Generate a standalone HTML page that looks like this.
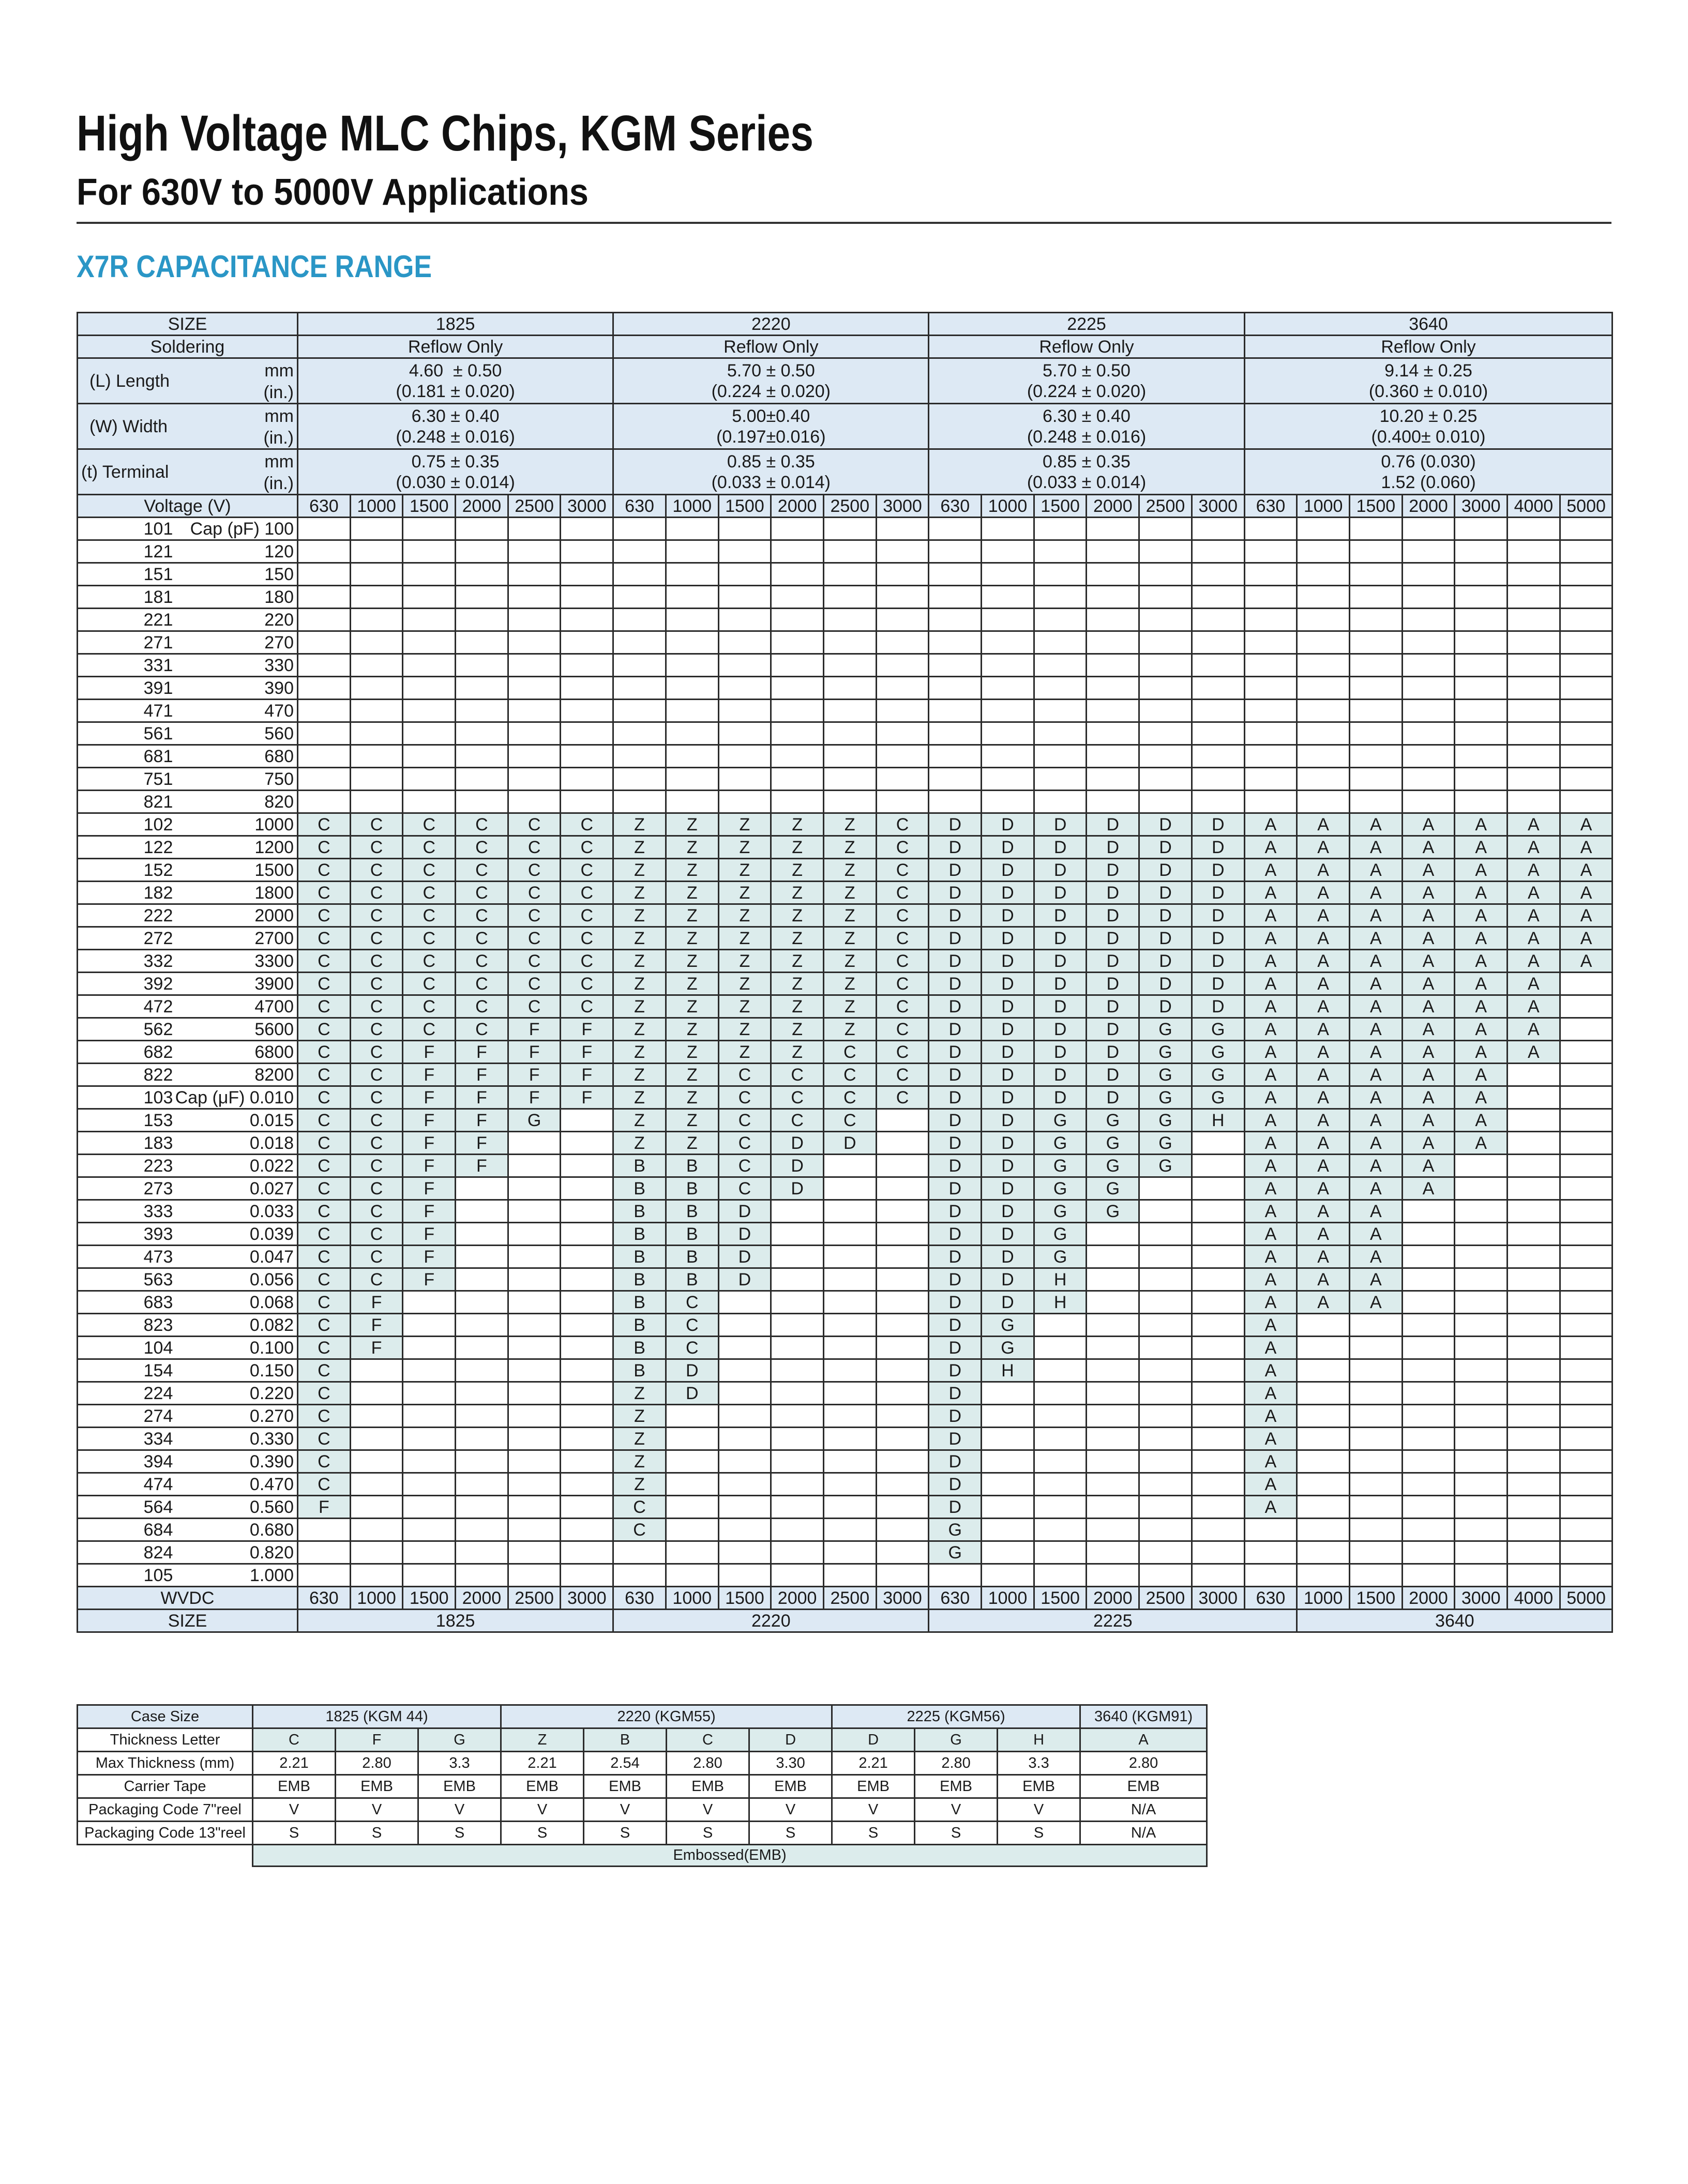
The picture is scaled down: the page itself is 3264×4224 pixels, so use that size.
<!DOCTYPE html>
<html><head><meta charset="utf-8"><style>
body{margin:0;width:3264px;height:4224px;background:#fff;position:relative;font-family:"Liberation Sans",sans-serif;color:#1a1a1a;overflow:hidden}
svg.t{position:absolute;left:0;top:0}
table{border-collapse:collapse;table-layout:fixed;position:absolute}
td{border:3px solid #2b2b2b;padding:0;text-align:center;white-space:nowrap;overflow:hidden}
#m{left:148px;top:603px;width:2968px;font-size:34px}
#m tr{height:44px}
#m tr.d{height:88px}
#m td{line-height:40px}
.h{background:#dde9f4}
.f{background:#dcecec}
td.l{position:relative;text-align:right;padding-right:6px}
td.l b{font-weight:normal;position:absolute;left:110px;width:90px;text-align:center;top:1px}
td.k{position:relative;text-align:left;padding-left:22px}
td.k span{position:absolute;right:6px;top:2px;text-align:right;line-height:42px}
#s{left:148px;top:3296px;width:2184px;font-size:29px}
#s tr{height:45px}
</style></head><body>
<svg class="t" width="3264" height="600">
<text x="148" y="291" font-family="Liberation Sans" font-weight="bold" font-size="97" textLength="1425" lengthAdjust="spacingAndGlyphs" fill="#111">High Voltage MLC Chips, KGM Series</text>
<text x="148" y="396" font-family="Liberation Sans" font-weight="bold" font-size="72" textLength="990" lengthAdjust="spacingAndGlyphs" fill="#111">For 630V to 5000V Applications</text>
<rect x="148" y="429" width="2968" height="4" fill="#333"/>
<text x="148" y="536" font-family="Liberation Sans" font-weight="bold" font-size="60" textLength="687" lengthAdjust="spacingAndGlyphs" fill="#2a96c6">X7R CAPACITANCE RANGE</text>
</svg>
<table id="m">
<colgroup><col style="width:426px"><col span="25" style="width:101.7px"></colgroup>
<tr class="h"><td>SIZE<td colspan="6">1825<td colspan="6">2220<td colspan="6">2225<td colspan="7">3640</tr>
<tr class="h"><td>Soldering<td colspan="6">Reflow Only<td colspan="6">Reflow Only<td colspan="6">Reflow Only<td colspan="7">Reflow Only</tr>
<tr class="h d"><td class="k">(L) Length<span>mm<br>(in.)</span><td colspan="6">4.60 &nbsp;± 0.50<br>(0.181 ± 0.020)<td colspan="6">5.70 ± 0.50<br>(0.224 ± 0.020)<td colspan="6">5.70 ± 0.50<br>(0.224 ± 0.020)<td colspan="7">9.14 ± 0.25<br>(0.360 ± 0.010)</tr>
<tr class="h d"><td class="k">(W) Width<span>mm<br>(in.)</span><td colspan="6">6.30 ± 0.40<br>(0.248 ± 0.016)<td colspan="6">5.00±0.40<br>(0.197±0.016)<td colspan="6">6.30 ± 0.40<br>(0.248 ± 0.016)<td colspan="7">10.20 ± 0.25<br>(0.400± 0.010)</tr>
<tr class="h d"><td class="k" style="padding-left:6px">(t) Terminal<span>mm<br>(in.)</span><td colspan="6">0.75 ± 0.35<br>(0.030 ± 0.014)<td colspan="6">0.85 ± 0.35<br>(0.033 ± 0.014)<td colspan="6">0.85 ± 0.35<br>(0.033 ± 0.014)<td colspan="7">0.76 (0.030)<br>1.52 (0.060)</tr>
<tr class="h"><td>Voltage (V)<td>630<td>1000<td>1500<td>2000<td>2500<td>3000<td>630<td>1000<td>1500<td>2000<td>2500<td>3000<td>630<td>1000<td>1500<td>2000<td>2500<td>3000<td>630<td>1000<td>1500<td>2000<td>3000<td>4000<td>5000</tr>
<tr><td class="l"><b>101</b>Cap (pF) 100<td><td><td><td><td><td><td><td><td><td><td><td><td><td><td><td><td><td><td><td><td><td><td><td><td><td></tr>
<tr><td class="l"><b>121</b>120<td><td><td><td><td><td><td><td><td><td><td><td><td><td><td><td><td><td><td><td><td><td><td><td><td><td></tr>
<tr><td class="l"><b>151</b>150<td><td><td><td><td><td><td><td><td><td><td><td><td><td><td><td><td><td><td><td><td><td><td><td><td><td></tr>
<tr><td class="l"><b>181</b>180<td><td><td><td><td><td><td><td><td><td><td><td><td><td><td><td><td><td><td><td><td><td><td><td><td><td></tr>
<tr><td class="l"><b>221</b>220<td><td><td><td><td><td><td><td><td><td><td><td><td><td><td><td><td><td><td><td><td><td><td><td><td><td></tr>
<tr><td class="l"><b>271</b>270<td><td><td><td><td><td><td><td><td><td><td><td><td><td><td><td><td><td><td><td><td><td><td><td><td><td></tr>
<tr><td class="l"><b>331</b>330<td><td><td><td><td><td><td><td><td><td><td><td><td><td><td><td><td><td><td><td><td><td><td><td><td><td></tr>
<tr><td class="l"><b>391</b>390<td><td><td><td><td><td><td><td><td><td><td><td><td><td><td><td><td><td><td><td><td><td><td><td><td><td></tr>
<tr><td class="l"><b>471</b>470<td><td><td><td><td><td><td><td><td><td><td><td><td><td><td><td><td><td><td><td><td><td><td><td><td><td></tr>
<tr><td class="l"><b>561</b>560<td><td><td><td><td><td><td><td><td><td><td><td><td><td><td><td><td><td><td><td><td><td><td><td><td><td></tr>
<tr><td class="l"><b>681</b>680<td><td><td><td><td><td><td><td><td><td><td><td><td><td><td><td><td><td><td><td><td><td><td><td><td><td></tr>
<tr><td class="l"><b>751</b>750<td><td><td><td><td><td><td><td><td><td><td><td><td><td><td><td><td><td><td><td><td><td><td><td><td><td></tr>
<tr><td class="l"><b>821</b>820<td><td><td><td><td><td><td><td><td><td><td><td><td><td><td><td><td><td><td><td><td><td><td><td><td><td></tr>
<tr><td class="l"><b>102</b>1000<td class="f">C<td class="f">C<td class="f">C<td class="f">C<td class="f">C<td class="f">C<td class="f">Z<td class="f">Z<td class="f">Z<td class="f">Z<td class="f">Z<td class="f">C<td class="f">D<td class="f">D<td class="f">D<td class="f">D<td class="f">D<td class="f">D<td class="f">A<td class="f">A<td class="f">A<td class="f">A<td class="f">A<td class="f">A<td class="f">A</tr>
<tr><td class="l"><b>122</b>1200<td class="f">C<td class="f">C<td class="f">C<td class="f">C<td class="f">C<td class="f">C<td class="f">Z<td class="f">Z<td class="f">Z<td class="f">Z<td class="f">Z<td class="f">C<td class="f">D<td class="f">D<td class="f">D<td class="f">D<td class="f">D<td class="f">D<td class="f">A<td class="f">A<td class="f">A<td class="f">A<td class="f">A<td class="f">A<td class="f">A</tr>
<tr><td class="l"><b>152</b>1500<td class="f">C<td class="f">C<td class="f">C<td class="f">C<td class="f">C<td class="f">C<td class="f">Z<td class="f">Z<td class="f">Z<td class="f">Z<td class="f">Z<td class="f">C<td class="f">D<td class="f">D<td class="f">D<td class="f">D<td class="f">D<td class="f">D<td class="f">A<td class="f">A<td class="f">A<td class="f">A<td class="f">A<td class="f">A<td class="f">A</tr>
<tr><td class="l"><b>182</b>1800<td class="f">C<td class="f">C<td class="f">C<td class="f">C<td class="f">C<td class="f">C<td class="f">Z<td class="f">Z<td class="f">Z<td class="f">Z<td class="f">Z<td class="f">C<td class="f">D<td class="f">D<td class="f">D<td class="f">D<td class="f">D<td class="f">D<td class="f">A<td class="f">A<td class="f">A<td class="f">A<td class="f">A<td class="f">A<td class="f">A</tr>
<tr><td class="l"><b>222</b>2000<td class="f">C<td class="f">C<td class="f">C<td class="f">C<td class="f">C<td class="f">C<td class="f">Z<td class="f">Z<td class="f">Z<td class="f">Z<td class="f">Z<td class="f">C<td class="f">D<td class="f">D<td class="f">D<td class="f">D<td class="f">D<td class="f">D<td class="f">A<td class="f">A<td class="f">A<td class="f">A<td class="f">A<td class="f">A<td class="f">A</tr>
<tr><td class="l"><b>272</b>2700<td class="f">C<td class="f">C<td class="f">C<td class="f">C<td class="f">C<td class="f">C<td class="f">Z<td class="f">Z<td class="f">Z<td class="f">Z<td class="f">Z<td class="f">C<td class="f">D<td class="f">D<td class="f">D<td class="f">D<td class="f">D<td class="f">D<td class="f">A<td class="f">A<td class="f">A<td class="f">A<td class="f">A<td class="f">A<td class="f">A</tr>
<tr><td class="l"><b>332</b>3300<td class="f">C<td class="f">C<td class="f">C<td class="f">C<td class="f">C<td class="f">C<td class="f">Z<td class="f">Z<td class="f">Z<td class="f">Z<td class="f">Z<td class="f">C<td class="f">D<td class="f">D<td class="f">D<td class="f">D<td class="f">D<td class="f">D<td class="f">A<td class="f">A<td class="f">A<td class="f">A<td class="f">A<td class="f">A<td class="f">A</tr>
<tr><td class="l"><b>392</b>3900<td class="f">C<td class="f">C<td class="f">C<td class="f">C<td class="f">C<td class="f">C<td class="f">Z<td class="f">Z<td class="f">Z<td class="f">Z<td class="f">Z<td class="f">C<td class="f">D<td class="f">D<td class="f">D<td class="f">D<td class="f">D<td class="f">D<td class="f">A<td class="f">A<td class="f">A<td class="f">A<td class="f">A<td class="f">A<td></tr>
<tr><td class="l"><b>472</b>4700<td class="f">C<td class="f">C<td class="f">C<td class="f">C<td class="f">C<td class="f">C<td class="f">Z<td class="f">Z<td class="f">Z<td class="f">Z<td class="f">Z<td class="f">C<td class="f">D<td class="f">D<td class="f">D<td class="f">D<td class="f">D<td class="f">D<td class="f">A<td class="f">A<td class="f">A<td class="f">A<td class="f">A<td class="f">A<td></tr>
<tr><td class="l"><b>562</b>5600<td class="f">C<td class="f">C<td class="f">C<td class="f">C<td class="f">F<td class="f">F<td class="f">Z<td class="f">Z<td class="f">Z<td class="f">Z<td class="f">Z<td class="f">C<td class="f">D<td class="f">D<td class="f">D<td class="f">D<td class="f">G<td class="f">G<td class="f">A<td class="f">A<td class="f">A<td class="f">A<td class="f">A<td class="f">A<td></tr>
<tr><td class="l"><b>682</b>6800<td class="f">C<td class="f">C<td class="f">F<td class="f">F<td class="f">F<td class="f">F<td class="f">Z<td class="f">Z<td class="f">Z<td class="f">Z<td class="f">C<td class="f">C<td class="f">D<td class="f">D<td class="f">D<td class="f">D<td class="f">G<td class="f">G<td class="f">A<td class="f">A<td class="f">A<td class="f">A<td class="f">A<td class="f">A<td></tr>
<tr><td class="l"><b>822</b>8200<td class="f">C<td class="f">C<td class="f">F<td class="f">F<td class="f">F<td class="f">F<td class="f">Z<td class="f">Z<td class="f">C<td class="f">C<td class="f">C<td class="f">C<td class="f">D<td class="f">D<td class="f">D<td class="f">D<td class="f">G<td class="f">G<td class="f">A<td class="f">A<td class="f">A<td class="f">A<td class="f">A<td><td></tr>
<tr><td class="l"><b>103</b>Cap (μF) 0.010<td class="f">C<td class="f">C<td class="f">F<td class="f">F<td class="f">F<td class="f">F<td class="f">Z<td class="f">Z<td class="f">C<td class="f">C<td class="f">C<td class="f">C<td class="f">D<td class="f">D<td class="f">D<td class="f">D<td class="f">G<td class="f">G<td class="f">A<td class="f">A<td class="f">A<td class="f">A<td class="f">A<td><td></tr>
<tr><td class="l"><b>153</b>0.015<td class="f">C<td class="f">C<td class="f">F<td class="f">F<td class="f">G<td><td class="f">Z<td class="f">Z<td class="f">C<td class="f">C<td class="f">C<td><td class="f">D<td class="f">D<td class="f">G<td class="f">G<td class="f">G<td class="f">H<td class="f">A<td class="f">A<td class="f">A<td class="f">A<td class="f">A<td><td></tr>
<tr><td class="l"><b>183</b>0.018<td class="f">C<td class="f">C<td class="f">F<td class="f">F<td><td><td class="f">Z<td class="f">Z<td class="f">C<td class="f">D<td class="f">D<td><td class="f">D<td class="f">D<td class="f">G<td class="f">G<td class="f">G<td><td class="f">A<td class="f">A<td class="f">A<td class="f">A<td class="f">A<td><td></tr>
<tr><td class="l"><b>223</b>0.022<td class="f">C<td class="f">C<td class="f">F<td class="f">F<td><td><td class="f">B<td class="f">B<td class="f">C<td class="f">D<td><td><td class="f">D<td class="f">D<td class="f">G<td class="f">G<td class="f">G<td><td class="f">A<td class="f">A<td class="f">A<td class="f">A<td><td><td></tr>
<tr><td class="l"><b>273</b>0.027<td class="f">C<td class="f">C<td class="f">F<td><td><td><td class="f">B<td class="f">B<td class="f">C<td class="f">D<td><td><td class="f">D<td class="f">D<td class="f">G<td class="f">G<td><td><td class="f">A<td class="f">A<td class="f">A<td class="f">A<td><td><td></tr>
<tr><td class="l"><b>333</b>0.033<td class="f">C<td class="f">C<td class="f">F<td><td><td><td class="f">B<td class="f">B<td class="f">D<td><td><td><td class="f">D<td class="f">D<td class="f">G<td class="f">G<td><td><td class="f">A<td class="f">A<td class="f">A<td><td><td><td></tr>
<tr><td class="l"><b>393</b>0.039<td class="f">C<td class="f">C<td class="f">F<td><td><td><td class="f">B<td class="f">B<td class="f">D<td><td><td><td class="f">D<td class="f">D<td class="f">G<td><td><td><td class="f">A<td class="f">A<td class="f">A<td><td><td><td></tr>
<tr><td class="l"><b>473</b>0.047<td class="f">C<td class="f">C<td class="f">F<td><td><td><td class="f">B<td class="f">B<td class="f">D<td><td><td><td class="f">D<td class="f">D<td class="f">G<td><td><td><td class="f">A<td class="f">A<td class="f">A<td><td><td><td></tr>
<tr><td class="l"><b>563</b>0.056<td class="f">C<td class="f">C<td class="f">F<td><td><td><td class="f">B<td class="f">B<td class="f">D<td><td><td><td class="f">D<td class="f">D<td class="f">H<td><td><td><td class="f">A<td class="f">A<td class="f">A<td><td><td><td></tr>
<tr><td class="l"><b>683</b>0.068<td class="f">C<td class="f">F<td><td><td><td><td class="f">B<td class="f">C<td><td><td><td><td class="f">D<td class="f">D<td class="f">H<td><td><td><td class="f">A<td class="f">A<td class="f">A<td><td><td><td></tr>
<tr><td class="l"><b>823</b>0.082<td class="f">C<td class="f">F<td><td><td><td><td class="f">B<td class="f">C<td><td><td><td><td class="f">D<td class="f">G<td><td><td><td><td class="f">A<td><td><td><td><td><td></tr>
<tr><td class="l"><b>104</b>0.100<td class="f">C<td class="f">F<td><td><td><td><td class="f">B<td class="f">C<td><td><td><td><td class="f">D<td class="f">G<td><td><td><td><td class="f">A<td><td><td><td><td><td></tr>
<tr><td class="l"><b>154</b>0.150<td class="f">C<td><td><td><td><td><td class="f">B<td class="f">D<td><td><td><td><td class="f">D<td class="f">H<td><td><td><td><td class="f">A<td><td><td><td><td><td></tr>
<tr><td class="l"><b>224</b>0.220<td class="f">C<td><td><td><td><td><td class="f">Z<td class="f">D<td><td><td><td><td class="f">D<td><td><td><td><td><td class="f">A<td><td><td><td><td><td></tr>
<tr><td class="l"><b>274</b>0.270<td class="f">C<td><td><td><td><td><td class="f">Z<td><td><td><td><td><td class="f">D<td><td><td><td><td><td class="f">A<td><td><td><td><td><td></tr>
<tr><td class="l"><b>334</b>0.330<td class="f">C<td><td><td><td><td><td class="f">Z<td><td><td><td><td><td class="f">D<td><td><td><td><td><td class="f">A<td><td><td><td><td><td></tr>
<tr><td class="l"><b>394</b>0.390<td class="f">C<td><td><td><td><td><td class="f">Z<td><td><td><td><td><td class="f">D<td><td><td><td><td><td class="f">A<td><td><td><td><td><td></tr>
<tr><td class="l"><b>474</b>0.470<td class="f">C<td><td><td><td><td><td class="f">Z<td><td><td><td><td><td class="f">D<td><td><td><td><td><td class="f">A<td><td><td><td><td><td></tr>
<tr><td class="l"><b>564</b>0.560<td class="f">F<td><td><td><td><td><td class="f">C<td><td><td><td><td><td class="f">D<td><td><td><td><td><td class="f">A<td><td><td><td><td><td></tr>
<tr><td class="l"><b>684</b>0.680<td><td><td><td><td><td><td class="f">C<td><td><td><td><td><td class="f">G<td><td><td><td><td><td><td><td><td><td><td><td></tr>
<tr><td class="l"><b>824</b>0.820<td><td><td><td><td><td><td><td><td><td><td><td><td class="f">G<td><td><td><td><td><td><td><td><td><td><td><td></tr>
<tr><td class="l"><b>105</b>1.000<td><td><td><td><td><td><td><td><td><td><td><td><td><td><td><td><td><td><td><td><td><td><td><td><td><td></tr>
<tr class="h"><td>WVDC<td>630<td>1000<td>1500<td>2000<td>2500<td>3000<td>630<td>1000<td>1500<td>2000<td>2500<td>3000<td>630<td>1000<td>1500<td>2000<td>2500<td>3000<td>630<td>1000<td>1500<td>2000<td>3000<td>4000<td>5000</tr>
<tr class="h"><td>SIZE<td colspan="6">1825<td colspan="6">2220<td colspan="7">2225<td colspan="6">3640</tr>
</table>
<table id="s">
<colgroup><col style="width:339px"><col span="10" style="width:160px"><col style="width:245px"></colgroup>
<tr class="h"><td>Case Size<td colspan="3">1825 (KGM 44)<td colspan="4">2220 (KGM55)<td colspan="3">2225 (KGM56)<td>3640 (KGM91)</tr>
<tr><td>Thickness Letter<td class="f">C<td class="f">F<td class="f">G<td class="f">Z<td class="f">B<td class="f">C<td class="f">D<td class="f">D<td class="f">G<td class="f">H<td class="f">A</tr>
<tr><td>Max Thickness (mm)<td>2.21<td>2.80<td>3.3<td>2.21<td>2.54<td>2.80<td>3.30<td>2.21<td>2.80<td>3.3<td>2.80</tr>
<tr><td>Carrier Tape<td>EMB<td>EMB<td>EMB<td>EMB<td>EMB<td>EMB<td>EMB<td>EMB<td>EMB<td>EMB<td>EMB</tr>
<tr><td>Packaging Code 7"reel<td>V<td>V<td>V<td>V<td>V<td>V<td>V<td>V<td>V<td>V<td>N/A</tr>
<tr><td>Packaging Code 13"reel<td>S<td>S<td>S<td>S<td>S<td>S<td>S<td>S<td>S<td>S<td>N/A</tr>
<tr style="height:42px"><td style="border-left:none;border-bottom:none"><td colspan="11" class="f">Embossed(EMB)</tr>
</table>
</body></html>
